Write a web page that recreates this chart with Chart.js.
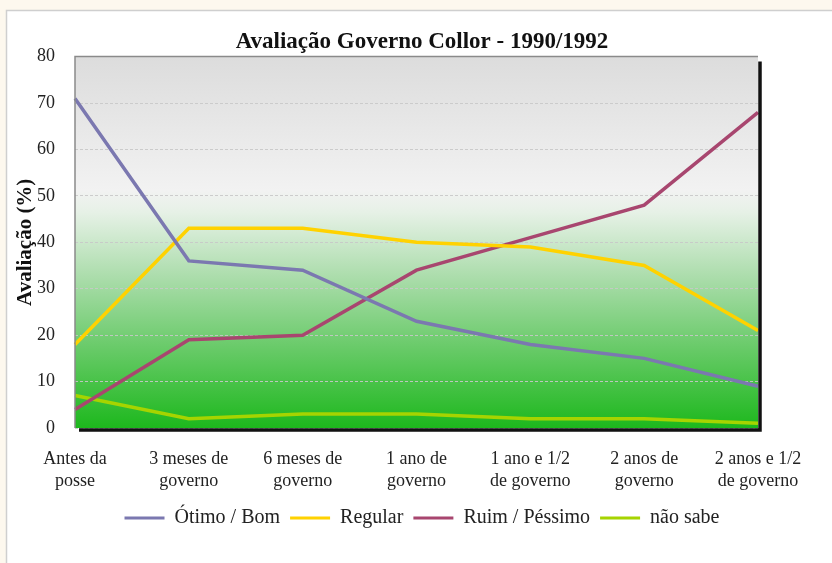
<!DOCTYPE html>
<html>
<head>
<meta charset="utf-8">
<script src="https://cdn.jsdelivr.net/npm/chart.js@4/dist/chart.umd.min.js"></script>
<style>
  html, body { margin: 0; padding: 0; background: #fdf8ee; }
  #wrap { position: relative; width: 832px; height: 563px; }
  canvas { display: block; }
</style>
</head>
<body>
<div id="wrap"><canvas id="c" width="832" height="563"></canvas></div>
<script>
const categories = [
  ["Antes da", "posse"],
  ["3 meses de", "governo"],
  ["6 meses de", "governo"],
  ["1 ano de", "governo"],
  ["1 ano e 1/2", "de governo"],
  ["2 anos de", "governo"],
  ["2 anos e 1/2", "de governo"]
];
const otimoBom = [71, 36, 34, 23, 18, 15, 9];
const regular = [18, 43, 43, 40, 39, 35, 21];
const ruimPessimo = [4, 19, 20, 34, 41, 48, 68];
const naoSabe = [7, 2, 3, 3, 2, 2, 1];
const seriesNames = ["Ótimo / Bom", "Regular", "Ruim / Péssimo", "não sabe"];
const seriesColors = ["#7b78b0", "#ffd200", "#a8466f", "#a6d400"];
const chartTitle = "Avaliação Governo Collor - 1990/1992";
const yTitle = "Avaliação (%)";

const FONT = "'Liberation Serif', 'DejaVu Serif', serif";

const bgPlugin = {
  id: 'bg',
  beforeDraw(chart) {
    const ctx = chart.ctx;
    const a = chart.chartArea;
    ctx.save();
    ctx.fillStyle = '#fdf8ee';
    ctx.fillRect(0, 0, chart.width, chart.height);
    ctx.fillStyle = '#ffffff';
    ctx.fillRect(6, 10, chart.width, chart.height);
    ctx.strokeStyle = '#cfcfcf';
    ctx.lineWidth = 1.5;
    ctx.beginPath();
    ctx.moveTo(6.5, chart.height + 2);
    ctx.lineTo(6.5, 10.5);
    ctx.lineTo(chart.width + 2, 10.5);
    ctx.stroke();
    const g = ctx.createLinearGradient(0, a.top, 0, a.bottom);
    g.addColorStop(0, '#dcdcdc');
    g.addColorStop(0.36, '#f2f2f2');
    g.addColorStop(0.42, '#e6f1e6');
    g.addColorStop(0.6, '#a9dca9');
    g.addColorStop(0.8, '#63c963');
    g.addColorStop(1, '#1db81d');
    ctx.fillStyle = g;
    ctx.fillRect(a.left, a.top, a.right - a.left, a.bottom - a.top);
    ctx.restore();
  },
  afterDatasetsDraw(chart) {
    const ctx = chart.ctx;
    const a = chart.chartArea;
    ctx.save();
    ctx.strokeStyle = '#8a8a8a';
    ctx.lineWidth = 1.5;
    ctx.beginPath();
    ctx.moveTo(a.left, a.bottom);
    ctx.lineTo(a.left, a.top);
    ctx.lineTo(a.right, a.top);
    ctx.stroke();
    ctx.strokeStyle = '#111111';
    ctx.lineWidth = 3.5;
    ctx.beginPath();
    ctx.moveTo(a.right + 2, a.top + 5);
    ctx.lineTo(a.right + 2, a.bottom + 2);
    ctx.lineTo(a.left + 4, a.bottom + 2);
    ctx.stroke();
    ctx.restore();
  }
};

const datasets = [otimoBom, regular, ruimPessimo, naoSabe].map((d, i) => ({
  label: seriesNames[i],
  data: d,
  borderColor: seriesColors[i],
  backgroundColor: seriesColors[i],
  borderWidth: 3.5,
  pointRadius: 0,
  pointHoverRadius: 0,
  tension: 0,
  fill: false
}));

new Chart(document.getElementById('c'), {
  type: 'line',
  data: { labels: categories, datasets },
  plugins: [bgPlugin],
  options: {
    responsive: false,
    animation: false,
    events: [],
    layout: { padding: { left: 12, right: 0, top: 24, bottom: 25 } },
    plugins: {
      title: {
        display: true,
        text: chartTitle,
        color: '#111',
        font: { family: FONT, size: 23, weight: 'bold' },
        padding: { top: 4, bottom: 1 }
      },
      legend: {
        display: true,
        position: 'bottom',
        labels: {
          color: '#222',
          font: { family: FONT, size: 20 },
          boxWidth: 40,
          boxHeight: 3,
          padding: 10,
          generateLabels(chart) {
            return chart.data.datasets.map((ds, i) => ({
              text: ds.label,
              fillStyle: ds.borderColor,
              strokeStyle: ds.borderColor,
              lineWidth: 0,
              fontColor: '#222',
              datasetIndex: i
            }));
          }
        }
      },
      tooltip: { enabled: false }
    },
    scales: {
      x: {
        offset: false,
        afterFit(scale) { scale.height = 70; },
        grid: { display: false, drawTicks: true, tickLength: 6, color: '#999' },
        border: { display: false },
        ticks: {
          color: '#222',
          font: { family: FONT, size: 18, lineHeight: 1.25 },
          maxRotation: 0,
          autoSkip: false,
          padding: 14
        }
      },
      y: {
        min: 0,
        max: 80,
        afterFit(scale) { scale.width = 63; },
        grid: {
          color: 'rgba(200,200,200,0.9)',
          drawTicks: false
        },
        border: { display: false, dash: [3, 2] },
        ticks: {
          stepSize: 10,
          color: '#222',
          font: { family: FONT, size: 18 },
          padding: 20
        },
        title: {
          display: true,
          text: yTitle,
          color: '#111',
          font: { family: FONT, size: 21, weight: 'bold' },
          padding: { top: 1, bottom: 0 }
        }
      },
      yRight: {
        position: 'right',
        display: true,
        afterFit(scale) { scale.width = 74; },
        grid: { display: false, drawTicks: false },
        border: { display: false },
        ticks: { display: false },
        title: { display: false }
      }
    }
  }
});
</script>
</body>
</html>
